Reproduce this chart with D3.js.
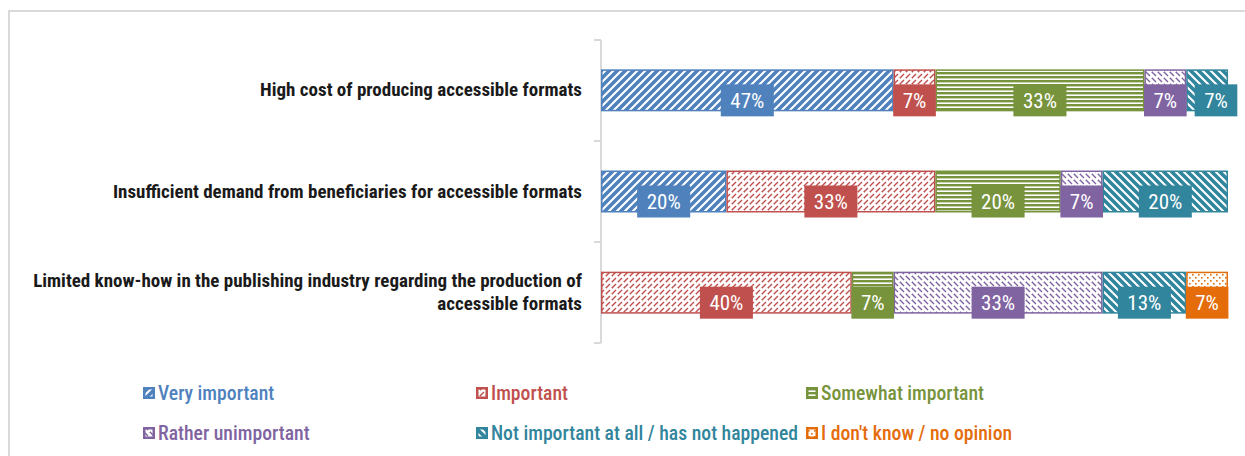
<!DOCTYPE html>
<html>
<head>
<meta charset="utf-8">
<script src="https://cdn.jsdelivr.net/npm/d3@7"></script>
<style>
  html, body { margin: 0; padding: 0; background: #fff; }
  svg { display: block; }
</style>
</head>
<body>
<svg id="chart" width="1245" height="456"></svg>
<script>
const categories = [
  "High cost of producing accessible formats",
  "Insufficient demand from beneficiaries for accessible formats",
  "Limited know-how in the publishing industry regarding the production of accessible formats"
];
const seriesNames = [
  "Very important",
  "Important",
  "Somewhat important",
  "Rather unimportant",
  "Not important at all / has not happened",
  "I don't know / no opinion"
];
const veryImportant      = [46.67, 20.00, 0];
const important          = [6.67, 33.33, 40.00];
const somewhatImportant  = [33.33, 20.00, 6.67];
const ratherUnimportant  = [6.67, 6.67, 33.33];
const notImportantAtAll  = [6.67, 20.00, 13.33];
const dontKnow           = [0, 0, 6.67];
const xTicks = [0, 100];

const seriesValues = [veryImportant, important, somewhatImportant, ratherUnimportant, notImportantAtAll, dontKnow];
const colors = ["#4F81BD", "#C0504D", "#77933C", "#8064A2", "#31859C", "#E46C0A"];
const patternIds = ["pVery", "pImp", "pSome", "pRather", "pNot", "pDk"];

const svg = d3.select("#chart");
const FONT = '"Liberation Sans Narrow", "Arial Narrow", "Roboto Condensed", "DejaVu Sans Condensed", sans-serif';

// frame
svg.append("rect").attr("x", 9).attr("y", 11).attr("width", 1300).attr("height", 500)
  .attr("fill", "none").attr("stroke", "#d9d9d9").attr("stroke-width", 2);

// patterns
const defs = svg.append("defs");
function pat(id, w, h) {
  return defs.append("pattern").attr("id", id).attr("patternUnits", "userSpaceOnUse")
    .attr("width", w).attr("height", h);
}
// wide upward diagonal (blue)
{
  const p = pat("pVery", 8, 8);
  p.append("rect").attr("width", 8).attr("height", 8).attr("fill", "#fff");
  p.append("path").attr("d", "M-2,10 L10,-2 M-2,2 L2,-2 M6,10 L10,6")
    .attr("stroke", colors[0]).attr("stroke-width", 3.6);
}
// dashed upward diagonal (red)
{
  const p = pat("pImp", 6, 6);
  p.append("rect").attr("width", 6).attr("height", 6).attr("fill", "#fff");
  p.append("path").attr("d", "M0,6 L4,2 M-1,1 L1,-1 M5,7 L7,5")
    .attr("stroke", colors[1]).attr("stroke-width", 1.4);
}
// narrow horizontal (green)
{
  const p = pat("pSome", 4, 4);
  p.append("rect").attr("width", 4).attr("height", 4).attr("fill", "#fff");
  p.append("rect").attr("width", 4).attr("height", 2.4).attr("fill", colors[2]);
}
// dashed downward diagonal (purple)
{
  const p = pat("pRather", 6, 6);
  p.append("rect").attr("width", 6).attr("height", 6).attr("fill", "#fff");
  p.append("path").attr("d", "M0,0 L4,4 M5,-1 L7,1 M-1,5 L1,7")
    .attr("stroke", colors[3]).attr("stroke-width", 1.4);
}
// wide downward diagonal (teal)
{
  const p = pat("pNot", 8, 8);
  p.append("rect").attr("width", 8).attr("height", 8).attr("fill", "#fff");
  p.append("path").attr("d", "M-2,-2 L10,10 M6,-2 L10,2 M-2,6 L2,10")
    .attr("stroke", colors[4]).attr("stroke-width", 3.6);
}
// dotted (orange)
{
  const p = pat("pDk", 6, 6);
  p.append("rect").attr("width", 6).attr("height", 6).attr("fill", "#fff");
  p.append("rect").attr("x", 1).attr("y", 1).attr("width", 1.6).attr("height", 1.6).attr("fill", colors[5]);
  p.append("rect").attr("x", 4).attr("y", 4).attr("width", 1.6).attr("height", 1.6).attr("fill", colors[5]);
}

// scales
const x = d3.scaleLinear().domain([xTicks[0], xTicks[1]]).range([601, 1228]);
const y = d3.scaleBand().domain(categories).range([40, 343]).paddingInner(0.585).paddingOuter(0.29);

// category axis
svg.append("line").attr("x1", 601).attr("x2", 601).attr("y1", 40).attr("y2", 343)
  .attr("stroke", "#d9d9d9").attr("stroke-width", 2);
const bandScale = d3.scaleBand().domain(categories).range([40, 343]);
const bandEdges = categories.map(c => bandScale(c)).concat([343]);
svg.selectAll(".ytick").data(bandEdges).join("line").attr("class", "ytick")
  .attr("x1", 594).attr("x2", 601).attr("y1", d => d).attr("y2", d => d)
  .attr("stroke", "#d9d9d9").attr("stroke-width", 2);

// category labels (wrapped)
const catG = svg.append("g");
categories.forEach((c, i) => {
  const t = catG.append("text").attr("x", 582).attr("text-anchor", "end")
    .attr("font-family", FONT).attr("font-weight", "bold").attr("font-size", 19).attr("fill", "#1a1a1a");
  const words = c.split(" ");
  const lines = [];
  let line = [];
  const tmp = t.append("tspan");
  words.forEach(w => {
    line.push(w);
    tmp.text(line.join(" "));
    if (tmp.node().getComputedTextLength() > 565 && line.length > 1) {
      line.pop();
      lines.push(line.join(" "));
      line = [w];
    }
  });
  lines.push(line.join(" "));
  tmp.remove();
  const cy = y(c) + y.bandwidth() / 2;
  const lh = 23;
  lines.forEach((l, k) => {
    t.append("tspan").attr("x", 582)
      .attr("y", cy + (k - (lines.length - 1) / 2) * lh + 6).text(l);
  });
});

// stacked bars
const stackData = categories.map((c, i) => {
  const o = { cat: c };
  seriesNames.forEach((s, j) => o[s] = seriesValues[j][i]);
  return o;
});
const stack = d3.stack().keys(seriesNames)(stackData);

const barsG = svg.append("g");
stack.forEach((layer, j) => {
  barsG.selectAll(null).data(layer.filter(d => d[1] - d[0] > 0)).join("rect")
    .attr("x", d => x(d[0]) + 0.75)
    .attr("y", d => y(d.data.cat) + 0.75)
    .attr("width", d => x(d[1]) - x(d[0]) - 1.5)
    .attr("height", y.bandwidth() - 1.5)
    .attr("fill", `url(#${patternIds[j]})`)
    .attr("stroke", colors[j]).attr("stroke-width", 1.5);
});

// data labels
const labelsG = svg.append("g");
categories.forEach((c, i) => {
  let prevRight = -Infinity;
  stack.forEach((layer, j) => {
    const d = layer[i];
    const v = d[1] - d[0];
    if (v <= 0) return;
    const g = labelsG.append("g");
    const txt = g.append("text").attr("font-family", FONT).attr("font-size", 21)
      .attr("fill", "#fff").attr("text-anchor", "middle").text(Math.round(v) + "%");
    const tw = txt.node().getComputedTextLength();
    const bw = tw + 19;
    let cx = (x(d[0]) + x(d[1])) / 2;
    if (cx - bw / 2 < prevRight + 8) cx = prevRight + 8 + bw / 2;
    prevRight = cx + bw / 2;
    const top = y(c) + 15;
    g.insert("rect", "text").attr("x", cx - bw / 2).attr("y", top).attr("width", bw).attr("height", 32)
      .attr("fill", colors[j]);
    txt.attr("x", cx).attr("y", top + 23.5);
  });
});

// legend
const legendPos = [
  [143, 393], [476, 393], [806, 393],
  [143, 433], [476, 433], [806, 433]
];
const legG = svg.append("g");
seriesNames.forEach((s, j) => {
  const [lx, ly] = legendPos[j];
  legG.append("rect").attr("x", lx).attr("y", ly - 6).attr("width", 12).attr("height", 12).attr("fill", colors[j]);
  legG.append("rect").attr("x", lx + 2.5).attr("y", ly - 3.5).attr("width", 7).attr("height", 7)
    .attr("fill", `url(#${patternIds[j]})`);
  legG.append("text").attr("x", lx + 15).attr("y", ly + 7).attr("font-family", FONT)
    .attr("font-size", 19.7).attr("font-weight", 500).attr("fill", colors[j]).text(s);
});
</script>
</body>
</html>
